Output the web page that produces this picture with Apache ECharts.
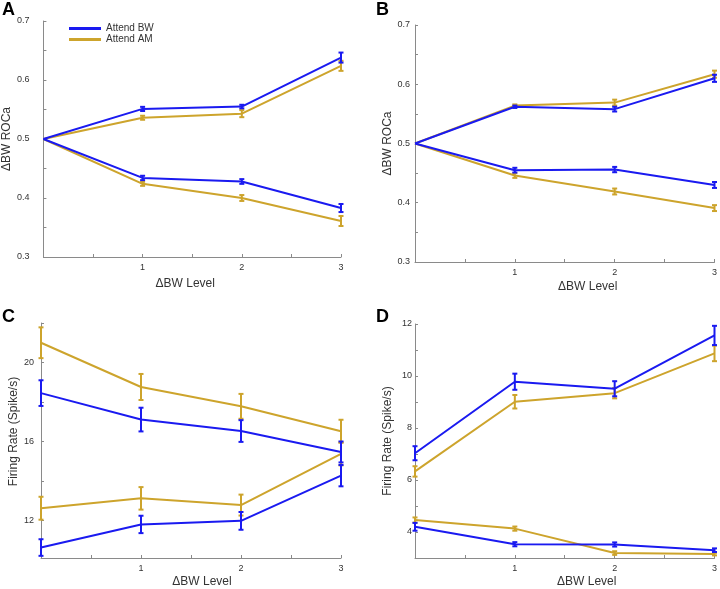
<!DOCTYPE html>
<html><head><meta charset="utf-8">
<script src="https://cdn.jsdelivr.net/npm/echarts@6/dist/echarts.min.js"></script>
<style>html,body{margin:0;padding:0;background:#fff}#c{width:720px;height:589px}</style>
</head><body><div id="c"></div>
<script>
// ---------- data ----------
const levels = [0, 1, 2, 3];
const seriesNames = ['Attend BW', 'Attend AM'];
const xTickLabels = ['1', '2', '3'];

// Panel A: ΔBW ROCa
const aBwUp = [0.5, 0.551, 0.555, 0.638];
const aBwUpErr = [0, 0.0035, 0.003, 0.0085];
const aBwDown = [0.5, 0.434, 0.428, 0.383];
const aBwDownErr = [0, 0.0037, 0.004, 0.0068];
const aAmUp = [0.5, 0.536, 0.543, 0.624];
const aAmUpErr = [0, 0.0034, 0.006, 0.0085];
const aAmDown = [0.5, 0.424, 0.400, 0.361];
const aAmDownErr = [0, 0.0034, 0.005, 0.0085];

// Panel B: ΔBW ROCa
const bBwUp = [0.5, 0.562, 0.558, 0.610];
const bBwUpErr = [0, 0.002, 0.004, 0.006];
const bBwDown = [0.5, 0.455, 0.456, 0.430];
const bBwDownErr = [0, 0.004, 0.0045, 0.005];
const bAmUp = [0.5, 0.564, 0.569, 0.617];
const bAmUpErr = [0, 0.002, 0.005, 0.006];
const bAmDown = [0.5, 0.446, 0.419, 0.391];
const bAmDownErr = [0, 0.004, 0.005, 0.005];

// Panel C: firing rate
const cBwUp = [18.45, 17.11, 16.53, 15.47];
const cBwUpErr = [0.65, 0.6, 0.55, 0.53];
const cBwDown = [10.63, 11.80, 11.98, 14.27];
const cBwDownErr = [0.42, 0.44, 0.45, 0.54];
const cAmUp = [21.0, 18.76, 17.78, 16.52];
const cAmUpErr = [0.78, 0.66, 0.63, 0.58];
const cAmDown = [12.62, 13.12, 12.78, 15.37];
const cAmDownErr = [0.58, 0.57, 0.53, 0.58];

// Panel D: firing rate
const dBwUp = [7.03, 9.78, 9.51, 11.56];
const dBwUpErr = [0.27, 0.31, 0.29, 0.37];
const dBwDown = [4.20, 3.53, 3.52, 3.30];
const dBwDownErr = [0.15, 0.08, 0.08, 0.07];
const dAmUp = [6.33, 9.01, 9.34, 10.87];
const dAmUpErr = [0.2, 0.26, 0.2, 0.3];
const dAmDown = [4.46, 4.13, 3.19, 3.15];
const dAmDownErr = [0.1, 0.08, 0.07, 0.05];

// ---------- style ----------
const BLUE = '#1a1af0';
const GOLD = '#cda42c';
const AXIS = '#8a8a8a';
const TXT = '#333';
const FONT = 'Liberation Sans, Arial, sans-serif';

const grids = [
  {left: 41, top: 21, width: 300, height: 236},
  {left: 415, top: 25, width: 301, height: 237},
  {left: 41, top: 323, width: 300, height: 238},
  {left: 415, top: 324, width: 301, height: 237}
];

function xAxis(gi, gap, pad) {
  return {
    type: 'value', gridIndex: gi, min: 0, max: 3, interval: 0.5,
    name: 'ΔBW Level', nameLocation: 'middle', nameGap: gap,
    nameTextStyle: {fontSize: 12, color: TXT, fontFamily: FONT, padding: pad},
    axisLine: {lineStyle: {color: AXIS, width: 1}},
    axisTick: {inside: true, length: 3, lineStyle: {color: AXIS}},
    splitLine: {show: false},
    axisLabel: {fontSize: 9, color: TXT, fontFamily: FONT, margin: 6,
      formatter: v => (Number.isInteger(v) && v > 0 && xTickLabels.includes(String(v))) ? String(v) : ''}
  };
}
function yAxisBase(gi, name, gap, labelMargin, pad) {
  return {
    type: 'value', gridIndex: gi,
    name: name, nameLocation: 'middle', nameGap: gap,
    nameTextStyle: {fontSize: 12, color: TXT, fontFamily: FONT, padding: pad || 0},
    axisLine: {show: true, lineStyle: {color: AXIS, width: 1}},
    axisTick: {show: true, inside: true, length: 3, lineStyle: {color: AXIS}},
    splitLine: {show: false},
    axisLabel: {fontSize: 9, color: TXT, fontFamily: FONT, margin: labelMargin}
  };
}

const yA = Object.assign(yAxisBase(0, 'ΔBW ROCa', 23, 14), {min: 0.3, max: 0.7, interval: 0.05});
yA.axisLabel.formatter = v => Math.abs(v * 10 - Math.round(v * 10)) < 1e-6 ? v.toFixed(1) : '';
const yB = Object.assign(yAxisBase(1, 'ΔBW ROCa', 17, 5), {min: 0.3, max: 0.7, interval: 0.05});
yB.axisLabel.formatter = yA.axisLabel.formatter;
const yC = Object.assign(yAxisBase(2, 'Firing Rate (Spike/s)', 19, 7, [0, 0, 0, 18]), {min: 10.1, max: 22});
yC.axisLabel.customValues = [12, 16, 20];
yC.axisTick.customValues = [12, 14, 16, 18, 20, 22];
const yD = Object.assign(yAxisBase(3, 'Firing Rate (Spike/s)', 21, 3), {min: 3, max: 12, interval: 1});
yD.axisLabel.formatter = v => (v % 2 === 0) ? String(v) : '';

function lineSeries(name, color, gi, values) {
  return {
    type: 'line', name: name, xAxisIndex: gi, yAxisIndex: gi,
    data: levels.map((x, i) => [x, values[i]]),
    symbol: 'none', lineStyle: {color: color, width: 2}, itemStyle: {color: color},
    silent: true, animation: false, z: color === BLUE ? 4 : 3
  };
}
function errSeries(color, gi, values, errs) {
  return {
    type: 'custom', xAxisIndex: gi, yAxisIndex: gi,
    data: levels.map((x, i) => [x, values[i], errs[i]]),
    encode: {x: 0, y: 1},
    silent: true, animation: false, z: color === BLUE ? 4 : 3,
    renderItem: function (params, api) {
      const x = api.value(0), y = api.value(1), e = api.value(2);
      if (!e) return null;
      const top = api.coord([x, y + e]);
      const bot = api.coord([x, y - e]);
      const w = 2.5;
      const st = {stroke: color, lineWidth: 2};
      return {type: 'group', children: [
        {type: 'line', shape: {x1: top[0], y1: top[1], x2: bot[0], y2: bot[1]}, style: st},
        {type: 'line', shape: {x1: top[0] - w, y1: top[1], x2: top[0] + w, y2: top[1]}, style: st},
        {type: 'line', shape: {x1: bot[0] - w, y1: bot[1], x2: bot[0] + w, y2: bot[1]}, style: st}
      ]};
    }
  };
}

const panels = [
  [aBwUp, aBwUpErr, aBwDown, aBwDownErr, aAmUp, aAmUpErr, aAmDown, aAmDownErr],
  [bBwUp, bBwUpErr, bBwDown, bBwDownErr, bAmUp, bAmUpErr, bAmDown, bAmDownErr],
  [cBwUp, cBwUpErr, cBwDown, cBwDownErr, cAmUp, cAmUpErr, cAmDown, cAmDownErr],
  [dBwUp, dBwUpErr, dBwDown, dBwDownErr, dAmUp, dAmUpErr, dAmDown, dAmDownErr]
];
const series = [];
panels.forEach((p, gi) => {
  series.push(lineSeries(seriesNames[1], GOLD, gi, p[4]));
  series.push(errSeries(GOLD, gi, p[4], p[5]));
  series.push(lineSeries(seriesNames[1], GOLD, gi, p[6]));
  series.push(errSeries(GOLD, gi, p[6], p[7]));
  series.push(lineSeries(seriesNames[0], BLUE, gi, p[0]));
  series.push(errSeries(BLUE, gi, p[0], p[1]));
  series.push(lineSeries(seriesNames[0], BLUE, gi, p[2]));
  series.push(errSeries(BLUE, gi, p[2], p[3]));
});

const letter = (t, x, y) => ({type: 'text', left: x, top: y,
  style: {text: t, fontSize: 18, fontWeight: 'bold', fill: '#000', fontFamily: FONT}});

const chart = echarts.init(document.getElementById('c'), null, {renderer: 'canvas'});
chart.setOption({
  backgroundColor: '#fff',
  animation: false,
  grid: grids,
  xAxis: [xAxis(0, 21, [0, 14, 0, 0]), xAxis(1, 19, [0, 0, 0, 46]), xAxis(2, 18, [0, 0, 0, 22]), xAxis(3, 18, [0, 0, 0, 44])],
  yAxis: [yA, yB, yC, yD],
  legend: {
    data: [{name: 'Attend BW', itemStyle: {color: BLUE}}, {name: 'Attend AM', itemStyle: {color: GOLD}}],
    orient: 'vertical', left: 69, top: 23, padding: 0, icon: 'rect', itemWidth: 32, itemHeight: 3, itemGap: 0,
    textStyle: {fontSize: 10, color: TXT, fontFamily: FONT, lineHeight: 11},
    selectedMode: false
  },
  graphic: [letter('A', 2, 1), letter('B', 376, 1), letter('C', 2, 308), letter('D', 376, 308)],
  series: series
});
</script></body></html>
